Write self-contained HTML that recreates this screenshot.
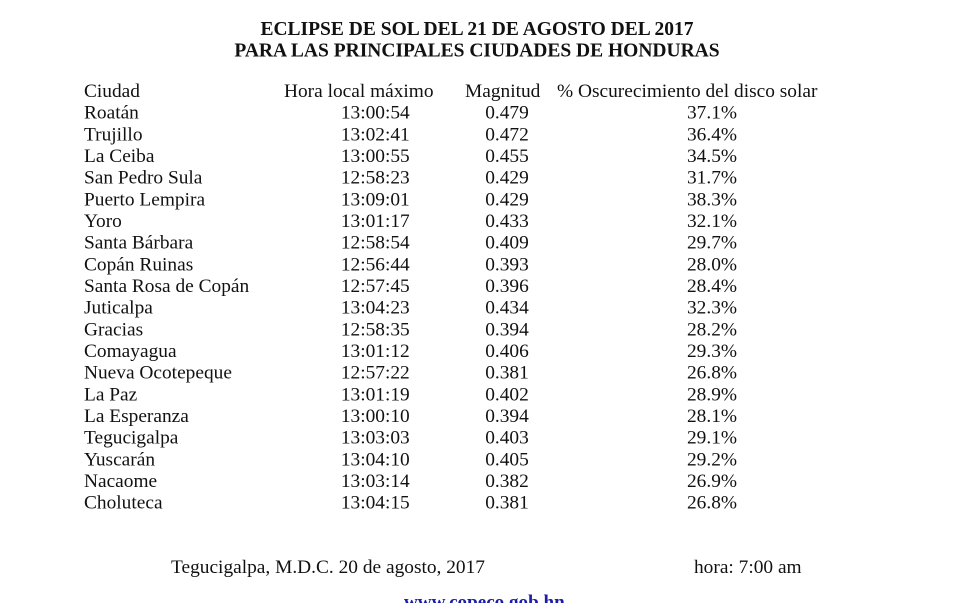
<!DOCTYPE html>
<html><head><meta charset="utf-8"><style>
html,body{margin:0;padding:0;background:#fff;width:957px;height:603px;overflow:hidden}
svg{display:block}
text{font-family:"Liberation Serif","Times New Roman",serif;fill:#111}
.t{font-weight:bold;font-size:19.5px}
.b{font-size:19px}
</style></head><body>
<svg width="957" height="603" viewBox="0 0 957 603" xmlns="http://www.w3.org/2000/svg">
<rect width="957" height="603" fill="#fff"/>
<text class="t" x="477" y="34.8" text-anchor="middle">ECLIPSE DE SOL DEL 21 DE AGOSTO DEL 2017</text>
<text class="t" x="477" y="56.4" text-anchor="middle">PARA LAS PRINCIPALES CIUDADES DE HONDURAS</text>
<g transform="scale(1.02,1)" class="b">
<text x="82.35" y="97">Ciudad</text>
<text x="278.43" y="97">Hora local máximo</text>
<text x="455.88" y="97">Magnitud</text>
<text x="546.08" y="97">% Oscurecimiento del disco solar</text>
<g>
<text x="82.35" y="118.7">Roatán</text><text x="367.94" y="118.7" text-anchor="middle">13:00:54</text><text x="497.06" y="118.7" text-anchor="middle">0.479</text><text x="698.04" y="118.7" text-anchor="middle">37.1%</text>
<text x="82.35" y="140.3">Trujillo</text><text x="367.94" y="140.3" text-anchor="middle">13:02:41</text><text x="497.06" y="140.3" text-anchor="middle">0.472</text><text x="698.04" y="140.3" text-anchor="middle">36.4%</text>
<text x="82.35" y="162">La Ceiba</text><text x="367.94" y="162" text-anchor="middle">13:00:55</text><text x="497.06" y="162" text-anchor="middle">0.455</text><text x="698.04" y="162" text-anchor="middle">34.5%</text>
<text x="82.35" y="183.7">San Pedro Sula</text><text x="367.94" y="183.7" text-anchor="middle">12:58:23</text><text x="497.06" y="183.7" text-anchor="middle">0.429</text><text x="698.04" y="183.7" text-anchor="middle">31.7%</text>
<text x="82.35" y="205.4">Puerto Lempira</text><text x="367.94" y="205.4" text-anchor="middle">13:09:01</text><text x="497.06" y="205.4" text-anchor="middle">0.429</text><text x="698.04" y="205.4" text-anchor="middle">38.3%</text>
<text x="82.35" y="227">Yoro</text><text x="367.94" y="227" text-anchor="middle">13:01:17</text><text x="497.06" y="227" text-anchor="middle">0.433</text><text x="698.04" y="227" text-anchor="middle">32.1%</text>
<text x="82.35" y="248.7">Santa Bárbara</text><text x="367.94" y="248.7" text-anchor="middle">12:58:54</text><text x="497.06" y="248.7" text-anchor="middle">0.409</text><text x="698.04" y="248.7" text-anchor="middle">29.7%</text>
<text x="82.35" y="270.4">Copán Ruinas</text><text x="367.94" y="270.4" text-anchor="middle">12:56:44</text><text x="497.06" y="270.4" text-anchor="middle">0.393</text><text x="698.04" y="270.4" text-anchor="middle">28.0%</text>
<text x="82.35" y="292">Santa Rosa de Copán</text><text x="367.94" y="292" text-anchor="middle">12:57:45</text><text x="497.06" y="292" text-anchor="middle">0.396</text><text x="698.04" y="292" text-anchor="middle">28.4%</text>
<text x="82.35" y="313.7">Juticalpa</text><text x="367.94" y="313.7" text-anchor="middle">13:04:23</text><text x="497.06" y="313.7" text-anchor="middle">0.434</text><text x="698.04" y="313.7" text-anchor="middle">32.3%</text>
<text x="82.35" y="335.4">Gracias</text><text x="367.94" y="335.4" text-anchor="middle">12:58:35</text><text x="497.06" y="335.4" text-anchor="middle">0.394</text><text x="698.04" y="335.4" text-anchor="middle">28.2%</text>
<text x="82.35" y="357">Comayagua</text><text x="367.94" y="357" text-anchor="middle">13:01:12</text><text x="497.06" y="357" text-anchor="middle">0.406</text><text x="698.04" y="357" text-anchor="middle">29.3%</text>
<text x="82.35" y="378.7">Nueva Ocotepeque</text><text x="367.94" y="378.7" text-anchor="middle">12:57:22</text><text x="497.06" y="378.7" text-anchor="middle">0.381</text><text x="698.04" y="378.7" text-anchor="middle">26.8%</text>
<text x="82.35" y="400.4">La Paz</text><text x="367.94" y="400.4" text-anchor="middle">13:01:19</text><text x="497.06" y="400.4" text-anchor="middle">0.402</text><text x="698.04" y="400.4" text-anchor="middle">28.9%</text>
<text x="82.35" y="422.1">La Esperanza</text><text x="367.94" y="422.1" text-anchor="middle">13:00:10</text><text x="497.06" y="422.1" text-anchor="middle">0.394</text><text x="698.04" y="422.1" text-anchor="middle">28.1%</text>
<text x="82.35" y="443.7">Tegucigalpa</text><text x="367.94" y="443.7" text-anchor="middle">13:03:03</text><text x="497.06" y="443.7" text-anchor="middle">0.403</text><text x="698.04" y="443.7" text-anchor="middle">29.1%</text>
<text x="82.35" y="465.4">Yuscarán</text><text x="367.94" y="465.4" text-anchor="middle">13:04:10</text><text x="497.06" y="465.4" text-anchor="middle">0.405</text><text x="698.04" y="465.4" text-anchor="middle">29.2%</text>
<text x="82.35" y="487.1">Nacaome</text><text x="367.94" y="487.1" text-anchor="middle">13:03:14</text><text x="497.06" y="487.1" text-anchor="middle">0.382</text><text x="698.04" y="487.1" text-anchor="middle">26.9%</text>
<text x="82.35" y="508.7">Choluteca</text><text x="367.94" y="508.7" text-anchor="middle">13:04:15</text><text x="497.06" y="508.7" text-anchor="middle">0.381</text><text x="698.04" y="508.7" text-anchor="middle">26.8%</text>
</g>
<text x="167.65" y="573">Tegucigalpa, M.D.C. 20 de agosto, 2017</text>
<text x="680.39" y="573">hora: 7:00 am</text>
</g>
<text x="404" y="608" font-weight="bold" font-size="19.1px" style="fill:#1c1ca8">www.copeco.gob.hn</text>
</svg>
</body></html>
